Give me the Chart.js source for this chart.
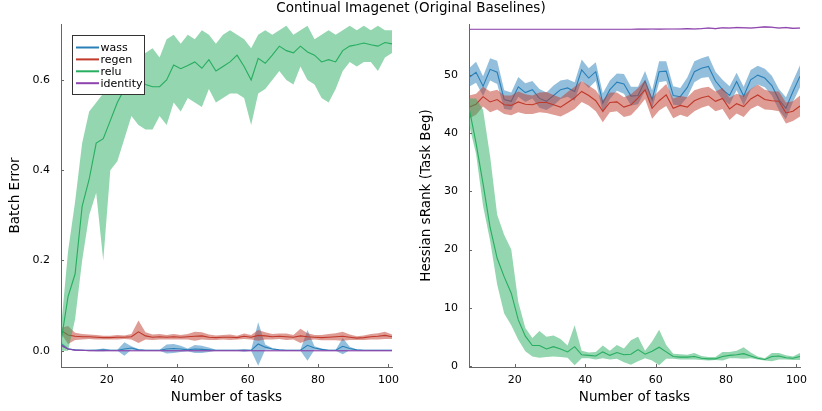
<!DOCTYPE html>
<html>
<head>
<meta charset="utf-8">
<script src="https://cdn.jsdelivr.net/npm/chart.js@4.4.1/dist/chart.umd.min.js"></script>
<style>
  body { margin: 0; background: #fff; width: 822px; height: 411px; position: relative; overflow: hidden; font-family: "DejaVu Sans", sans-serif; }
  #title { position: absolute; left: 0; top: 0; width: 822px; text-align: center; font-size: 13.5px; line-height: 14px; color: #000; z-index: 2; }
  canvas { position: absolute; top: 0; }
</style>
</head>
<body>
<div id="title">Continual Imagenet (Original Baselines)</div>
<canvas id="left" width="411" height="411" style="left:0"></canvas>
<canvas id="right" width="411" height="411" style="left:411px"></canvas>
<script>
// x values (number of tasks), every second task
const tasks = [7,9,11,13,15,17,19,21,23,25,27,29,31,33,35,37,39,41,43,45,47,49,51,53,55,57,59,61,63,65,67,69,71,73,75,77,79,81,83,85,87,89,91,93,95,97,99,101];
const xTicks = [20, 40, 60, 80, 100];

const seriesNames = ['wass', 'regen', 'relu', 'identity'];
const seriesColors = ['#2980b9', '#c0392b', '#27ae60', '#8e44ad'];

// ---- left panel: Batch Error ----
const leftTicks = [0, 0.2, 0.4, 0.6];
const leftTickLabels = ['0.0', '0.2', '0.4', '0.6'];

const leftWassMean = [0.015,0.004,0.002,0.001,0.001,0.001,0.002,0.001,0.001,0.004,0.006,0.002,0.001,0.001,0.001,0.004,0.005,0.004,0.002,0.004,0.003,0.002,0.001,0.001,0.001,0.001,0.001,0.001,0.015,0.008,0.004,0.002,0.001,0.001,0.001,0.012,0.006,0.003,0.001,0.001,0.010,0.005,0.002,0.001,0.001,0.001,0.001,0.001];
const leftWassSpread = [0.004,0.002,0.001,0.001,0.001,0.002,0.003,0.001,0.001,0.015,0.004,0.002,0.001,0.001,0.001,0.010,0.010,0.007,0.003,0.009,0.008,0.005,0.001,0.001,0.001,0.001,0.003,0.001,0.048,0.006,0.002,0.001,0.001,0.001,0.001,0.034,0.004,0.002,0.001,0.001,0.018,0.004,0.001,0.001,0.001,0.001,0.001,0.001];

const leftRegenMean = [0.045,0.035,0.032,0.031,0.031,0.030,0.029,0.029,0.030,0.030,0.031,0.042,0.033,0.030,0.031,0.030,0.031,0.030,0.031,0.032,0.033,0.030,0.029,0.030,0.030,0.029,0.032,0.030,0.034,0.033,0.031,0.032,0.031,0.030,0.033,0.031,0.030,0.029,0.030,0.031,0.032,0.030,0.028,0.029,0.031,0.032,0.034,0.031];
const leftRegenSpread = [0.006,0.020,0.008,0.006,0.005,0.005,0.004,0.004,0.005,0.004,0.006,0.025,0.008,0.006,0.006,0.005,0.006,0.005,0.006,0.010,0.008,0.006,0.005,0.005,0.006,0.004,0.006,0.005,0.012,0.008,0.006,0.006,0.007,0.005,0.016,0.008,0.005,0.006,0.007,0.008,0.010,0.006,0.004,0.005,0.006,0.007,0.008,0.005];

const leftReluMean = [0.02,0.12,0.17,0.32,0.38,0.46,0.47,0.51,0.55,0.58,0.59,0.60,0.59,0.585,0.585,0.60,0.633,0.625,0.632,0.64,0.626,0.645,0.62,0.63,0.64,0.655,0.63,0.60,0.648,0.637,0.655,0.675,0.665,0.66,0.675,0.662,0.655,0.64,0.645,0.64,0.665,0.675,0.678,0.682,0.678,0.675,0.683,0.68];
const leftReluLo = [0.00,0.00,0.07,0.20,0.30,0.35,0.20,0.40,0.42,0.47,0.52,0.50,0.49,0.49,0.52,0.50,0.55,0.53,0.56,0.55,0.54,0.58,0.55,0.56,0.57,0.57,0.56,0.50,0.57,0.58,0.60,0.62,0.60,0.59,0.63,0.60,0.59,0.56,0.55,0.58,0.62,0.64,0.63,0.64,0.64,0.62,0.65,0.66];
const leftReluHi = [0.05,0.22,0.33,0.46,0.53,0.55,0.57,0.62,0.64,0.66,0.68,0.67,0.66,0.67,0.65,0.69,0.70,0.68,0.70,0.69,0.71,0.70,0.68,0.70,0.71,0.70,0.69,0.67,0.70,0.71,0.70,0.71,0.72,0.70,0.71,0.72,0.69,0.70,0.71,0.70,0.71,0.72,0.71,0.72,0.71,0.72,0.71,0.71];

const leftIdMean = [0.012,0.004,0.001,0.001,0,0,0,0,0,0,0,0,0,0,0,0,0,0,0,0,0,0,0,0,0,0,0,0,0,0,0,0,0,0,0,0,0,0,0,0,0,0,0,0,0,0,0,0];
const leftIdSpread = [0.002,0.001,0.001,0.001,0.001,0.001,0.001,0.001,0.001,0.001,0.001,0.001,0.001,0.001,0.001,0.001,0.001,0.001,0.001,0.001,0.001,0.001,0.001,0.001,0.001,0.001,0.001,0.001,0.001,0.001,0.001,0.001,0.001,0.001,0.001,0.001,0.001,0.001,0.001,0.001,0.001,0.001,0.001,0.001,0.001,0.001,0.001,0.001];

// ---- right panel: Hessian sRank ----
const rightTicks = [0, 10, 20, 30, 40, 50];
const rightTickLabels = ['0', '10', '20', '30', '40', '50'];

const rightWassMean = [49.6,50.5,48.1,51.0,50.5,45.8,45.5,48.0,47.0,47.5,46.0,45.5,46.5,47.5,47.8,47.2,50.9,49.5,50.6,45.2,47.5,48.8,48.5,46.4,46.5,49.0,45.8,50.6,50.7,46.5,46.3,47.9,50.6,51.2,51.5,49.0,47.5,46.5,48.9,46.4,49.2,50.0,49.5,48.2,45.8,44.3,47.2,49.8];
const rightWassSpread = [1.6,1.8,1.7,1.9,2.0,1.6,1.5,1.7,1.6,1.5,1.6,1.5,1.7,1.6,1.5,1.6,1.8,1.7,1.6,1.7,1.6,1.5,1.7,1.6,1.5,1.7,1.6,1.8,1.7,1.6,1.5,1.7,1.8,1.7,1.8,1.6,1.7,1.6,1.5,1.6,1.7,1.6,1.6,1.7,1.8,1.9,1.8,1.9];

const rightRegenMean = [44.5,45.0,46.3,45.4,45.8,44.9,44.8,45.4,45.0,44.9,45.3,45.3,44.9,44.5,45.3,46.1,47.2,46.5,45.6,43.8,45.3,45.4,44.5,44.9,46.1,47.5,44.3,45.6,46.6,44.3,44.8,44.5,45.6,46.1,46.4,45.5,46.0,44.2,45.1,44.6,45.9,46.6,45.8,45.6,45.5,43.5,43.8,44.7];
const rightRegenSpread = [2.0,1.8,1.7,1.8,1.7,1.6,1.7,1.8,1.7,1.6,1.7,1.8,1.7,1.6,1.8,1.9,1.8,1.7,1.8,1.9,1.7,1.6,1.7,1.8,1.7,1.6,1.8,1.7,1.9,1.7,1.6,1.7,1.8,1.7,1.6,1.7,1.8,1.9,1.7,1.8,1.7,1.8,1.7,1.6,1.7,1.8,1.7,1.8];

const rightReluMean = [44.4,38.3,31.3,23.8,18.5,15.3,12.5,7.9,5.1,3.5,3.5,2.9,3.3,2.9,2.4,3.3,1.9,1.8,1.7,2.4,1.8,2.3,1.9,2.0,2.8,2.0,2.5,3.2,2.4,1.6,1.5,1.5,1.6,1.3,1.2,1.2,1.6,1.8,1.9,2.1,1.7,1.3,1.1,1.6,1.7,1.4,1.3,1.6];
const rightReluLo = [41.5,36.5,27.5,21.5,14.0,9.0,7.0,4.5,2.5,1.6,1.4,1.5,1.6,1.5,1.4,0.1,1.3,1.3,1.1,1.3,1.1,1.2,0.6,0.2,0.8,1.3,0.9,0.1,1.2,1.2,1.1,1.1,1.1,1.0,0.9,1.0,0.9,1.3,1.3,1.2,1.3,1.1,0.9,0.8,1.1,1.1,1.0,1.0];
const rightReluHi = [46.0,46.0,44.0,36.0,26.0,22.5,20.0,11.0,6.5,4.8,6.0,5.0,5.2,4.6,3.5,7.0,2.6,2.3,2.4,3.5,2.6,3.6,3.0,4.4,5.0,2.6,4.2,6.2,3.6,2.1,2.0,1.9,2.2,1.7,1.5,1.5,2.4,2.4,2.6,3.2,2.3,1.6,1.3,2.2,2.2,1.8,1.6,2.2];

const rightIdMean = [57.9,57.9,57.9,57.9,57.9,57.9,57.9,57.9,57.9,57.9,57.9,57.9,57.9,57.9,57.9,57.9,57.9,57.9,57.9,57.9,57.9,57.9,57.9,57.9,57.92,57.92,57.93,57.92,57.93,57.94,57.95,58.0,57.95,58.0,58.1,58.0,58.15,58.1,58.2,58.15,58.1,58.2,58.3,58.25,58.1,58.2,58.05,58.1];
const rightIdSpread = [0.05,0.05,0.05,0.05,0.05,0.05,0.05,0.05,0.05,0.05,0.05,0.05,0.05,0.05,0.05,0.05,0.05,0.05,0.05,0.05,0.05,0.05,0.05,0.05,0.06,0.06,0.06,0.06,0.06,0.06,0.08,0.08,0.08,0.08,0.1,0.1,0.1,0.1,0.12,0.12,0.1,0.12,0.12,0.12,0.1,0.12,0.1,0.1];

const FONT = '"DejaVu Sans", sans-serif';
const AXIS_COLOR = '#666';

function withAlpha(hex, a) {
  const n = parseInt(hex.slice(1), 16);
  return 'rgba(' + (n >> 16) + ',' + ((n >> 8) & 255) + ',' + (n & 255) + ',' + a + ')';
}

function pts(arr) {
  return tasks.map((t, i) => ({ x: t, y: arr[i] }));
}

// one ribbon + mean line; later series get a lower order so they draw on top
function ribbon(k, mean, lo, hi) {
  const color = seriesColors[k];
  const order = 10 - 2 * k;
  return [
    { label: seriesNames[k] + '_lo', data: pts(lo), borderWidth: 0, borderColor: 'rgba(0,0,0,0)', pointRadius: 0, fill: false, order: order },
    { label: seriesNames[k] + '_hi', data: pts(hi), borderWidth: 0, borderColor: 'rgba(0,0,0,0)', pointRadius: 0, fill: '-1', backgroundColor: withAlpha(color, 0.5), order: order },
    { label: seriesNames[k], data: pts(mean), borderColor: color, borderWidth: 1.1, pointRadius: 0, fill: false, order: order - 1 }
  ];
}

function spreadRibbon(k, mean, spread) {
  return ribbon(k, mean, mean.map((m, i) => m - spread[i]), mean.map((m, i) => m + spread[i]));
}

// small inward tick marks, like the original plot
const innerTicks = {
  id: 'innerTicks',
  afterDatasetsDraw(chart) {
    const ctx = chart.ctx, a = chart.chartArea;
    ctx.save();
    ctx.strokeStyle = AXIS_COLOR;
    ctx.lineWidth = 1;
    ctx.beginPath();
    chart.scales.x.ticks.forEach(t => {
      const px = Math.round(chart.scales.x.getPixelForValue(t.value)) + 0.5;
      ctx.moveTo(px, a.bottom);
      ctx.lineTo(px, a.bottom - 3);
    });
    chart.scales.y.ticks.forEach(t => {
      const py = Math.round(chart.scales.y.getPixelForValue(t.value)) + 0.5;
      ctx.moveTo(a.left, py);
      ctx.lineTo(a.left + 3, py);
    });
    ctx.stroke();
    ctx.restore();
  }
};

const legendPlugin = {
  id: 'boxLegend',
  afterDraw(chart) {
    if (!chart.options.plugins.boxLegend.show) return;
    const ctx = chart.ctx;
    ctx.save();
    ctx.fillStyle = '#fff';
    ctx.fillRect(72.5, 35.5, 72, 59);
    ctx.strokeStyle = '#333';
    ctx.lineWidth = 1;
    ctx.strokeRect(72.5, 35.5, 72, 59);
    ctx.font = '11px ' + FONT;
    ctx.textBaseline = 'middle';
    seriesNames.forEach((name, i) => {
      const y = 47.5 + i * 11.9;
      ctx.strokeStyle = seriesColors[i];
      ctx.lineWidth = 2;
      ctx.beginPath();
      ctx.moveTo(76, y);
      ctx.lineTo(99, y);
      ctx.stroke();
      ctx.fillStyle = '#000';
      ctx.fillText(name, 100.5, y + 0.5);
    });
    ctx.restore();
  }
};

function makeChart(id, datasets, cfg) {
  return new Chart(document.getElementById(id), {
    type: 'line',
    data: { datasets: datasets },
    plugins: [innerTicks, legendPlugin],
    options: {
      responsive: false,
      animation: false,
      layout: { padding: { left: 0, top: 24, right: cfg.padRight, bottom: 0 } },
      plugins: { legend: { display: false }, tooltip: { enabled: false }, boxLegend: { show: cfg.legend } },
      elements: { line: { tension: 0 }, point: { radius: 0 } },
      scales: {
        x: {
          type: 'linear', min: 7, max: 101,
          afterFit: s => { s.height = 44; },
          afterBuildTicks: s => { s.ticks = xTicks.map(v => ({ value: v })); },
          grid: { display: true, drawOnChartArea: false, drawTicks: false },
          border: { display: true, color: AXIS_COLOR, width: 1 },
          ticks: { color: '#000', font: { family: FONT, size: 11 }, padding: 7, maxRotation: 0, callback: v => String(v) },
          title: { display: true, text: 'Number of tasks', color: '#000', font: { family: FONT, size: 13.5 }, padding: { top: 0, bottom: 5 } }
        },
        y: {
          type: 'linear', min: cfg.yMin, max: cfg.yMax,
          afterFit: s => { s.width = cfg.yWidth; },
          afterBuildTicks: s => { s.ticks = cfg.yTicks.map(v => ({ value: v })); },
          grid: { display: true, drawOnChartArea: false, drawTicks: false },
          border: { display: true, color: AXIS_COLOR, width: 1 },
          ticks: { color: '#000', font: { family: FONT, size: 11 }, padding: 11, callback: (v, i) => cfg.yLabels[i] },
          title: { display: true, text: cfg.yTitle, color: '#000', font: { family: FONT, size: 13.5 }, padding: { top: 7, bottom: 0 } }
        }
      }
    }
  });
}

makeChart('left', [].concat(
  spreadRibbon(0, leftWassMean, leftWassSpread),
  spreadRibbon(1, leftRegenMean, leftRegenSpread),
  ribbon(2, leftReluMean, leftReluLo, leftReluHi),
  spreadRibbon(3, leftIdMean, leftIdSpread)
), { padRight: 19, yWidth: 61, yMin: -0.036, yMax: 0.724, yTicks: leftTicks, yLabels: leftTickLabels, yTitle: 'Batch Error', legend: true });

makeChart('right', [].concat(
  spreadRibbon(0, rightWassMean, rightWassSpread),
  spreadRibbon(1, rightRegenMean, rightRegenSpread),
  ribbon(2, rightReluMean, rightReluLo, rightReluHi),
  spreadRibbon(3, rightIdMean, rightIdSpread)
), { padRight: 22, yWidth: 58, yMin: -0.2, yMax: 58.8, yTicks: rightTicks, yLabels: rightTickLabels, yTitle: 'Hessian sRank (Task Beg)', legend: false });
</script>
</body>
</html>
